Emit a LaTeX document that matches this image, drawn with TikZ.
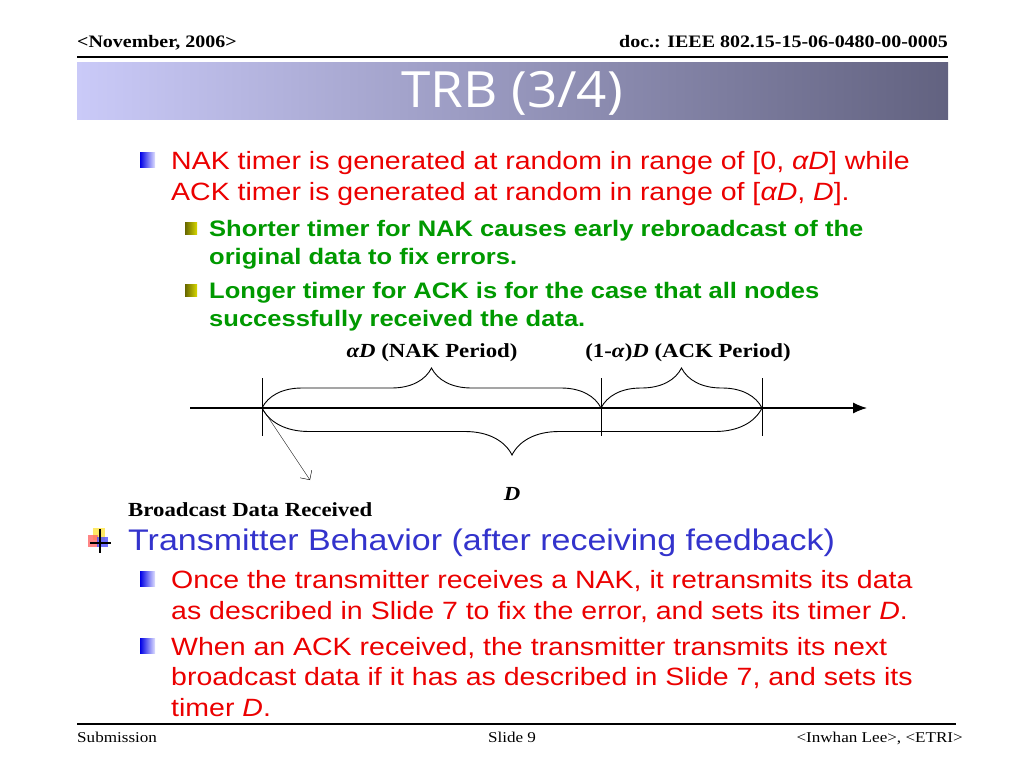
\documentclass[tikz,border=0pt]{standalone}
\usepackage{fontspec}
\setmainfont[FakeStretch=1.14]{Liberation Serif}
\newfontfamily\arialfont[FakeStretch=1.14]{Liberation Sans}
\newfontfamily\titlefont[FakeStretch=1.06]{Open Sans}
\usetikzlibrary{decorations.pathreplacing,arrows.meta}
\definecolor{slidered}{RGB}{235,0,0}
\definecolor{slidegreen}{RGB}{0,153,0}
\definecolor{slideblue}{RGB}{51,51,204}
\begin{document}
\begin{tikzpicture}[x=1pt,y=-1pt,
    bluebox/.style={left color=blue!90!black,right color=blue!12},
    greenbox/.style={left color=olive!80!black,right color=yellow!70!olive},
    redtxt/.style={anchor=base west,align=left,inner sep=0pt,text=slidered,font=\arialfont\fontsize{25}{30.5}\selectfont},
    greentxt/.style={anchor=base west,align=left,inner sep=0pt,text=slidegreen,font=\arialfont\bfseries\fontsize{22.4}{28}\selectfont},
    lbl/.style={inner sep=0pt,font=\bfseries\fontsize{20}{22}\selectfont},
    foot/.style={anchor=base,inner sep=0pt,font=\fontsize{15}{15}\selectfont}]
    \useasboundingbox (0,0) rectangle (1024,768);

    % header and title bar
    \node[anchor=base west,inner sep=0pt,font=\bfseries\fontsize{17.5}{18}\selectfont] (date) at (77,48) {<November, 2006>};
    \node[anchor=base east,inner sep=0pt,font=\bfseries\fontsize{17.5}{18}\selectfont] (doc) at (948,48) {doc.: IEEE 802.15-15-06-0480-00-0005};
    \draw[line width=1.5pt] (77,57) -- (948,57);
    \shade[left color={rgb,255:red,202;green,202;blue,248},right color={rgb,255:red,98;green,98;blue,128}] (77,62) rectangle (948,119);
    \node[text=white,font=\titlefont\fontsize{50}{50}\selectfont] (title) at (512,93) {TRB (3/4)};

    % bullets (base of each node is its last line)
    \shade[bluebox] (140,152) rectangle (155,167);
    \node[redtxt] (nak) at (171,200) {NAK timer is generated at random in range of [0, \textit{αD}] while\\ACK timer is generated at random in range of [\textit{αD}, \textit{D}].};
    \shade[greenbox] (185,222) rectangle (197,234);
    \node[greentxt] (short) at (209,264) {Shorter timer for NAK causes early rebroadcast of the\\original data to fix errors.};
    \shade[greenbox] (185,284) rectangle (197,296);
    \node[greentxt] (long) at (209,326) {Longer timer for ACK is for the case that all nodes\\successfully received the data.};

    % timeline
    \coordinate (start) at (262,408);
    \coordinate (mid) at (601,408);
    \coordinate (end) at (762,408);
    \coordinate (axisL) at (190,408);
    \coordinate (axisR) at (867,408);
    \coordinate (recv) at (310,480);
    \draw[line width=1.2pt,-{Latex[length=14pt,width=11pt]}] (axisL) -- (axisR);
    \foreach \t in {start,mid,end}
      \draw (\t) +(0,-30) -- +(0,28);
    \draw[line width=0.9pt,decorate,decoration={brace,amplitude=40pt}] (start) -- (mid);
    \draw[line width=0.9pt,decorate,decoration={brace,amplitude=40pt}] (mid) -- (end);
    \draw[line width=0.9pt,decorate,decoration={brace,mirror,amplitude=47pt}] (start) -- (end);
    \draw[-{Straight Barb[length=7pt]}] (start) -- (recv);

    \node[lbl,anchor=base] (nakp) at (432,357) {\textit{αD} (NAK Period)};
    \node[lbl,anchor=base] (ackp) at (688,357) {(1-\textit{α})\textit{D} (ACK Period)};
    \node[lbl,anchor=base] (dlen) at (512,500) {\textit{D}};
    \node[lbl,anchor=base west] (bcast) at (128,516) {Broadcast Data Received};

    % transmitter behaviour
    \fill[yellow!80!orange!60] (93,528) rectangle (105,540);
    \fill[red!60,opacity=0.8] (88,535) rectangle (98,547);
    \fill[blue!70,opacity=0.8] (97,537) rectangle (108,547);
    \draw[line width=1.4pt] (100,529) -- (100,553) (90,543) -- (111,543);
    \node[anchor=base west,inner sep=0pt,text=slideblue,font=\arialfont\fontsize{29.8}{30}\selectfont] (tx) at (128,550) {Transmitter Behavior (after receiving feedback)};
    \shade[bluebox] (140,571) rectangle (155,586);
    \node[redtxt] (once) at (171,619) {Once the transmitter receives a NAK, it retransmits its data\\as described in Slide 7 to fix the error, and sets its timer \textit{D}.};
    \shade[bluebox] (140,638) rectangle (155,653);
    \node[redtxt] (when) at (171,716) {When an ACK received, the transmitter transmits its next\\broadcast data if it has as described in Slide 7, and sets its\\timer \textit{D}.};

    % footer
    \draw[line width=1.5pt] (77,724) -- (956,724);
    \node[foot,anchor=base west] (sub) at (77,742) {Submission};
    \node[foot] (slide) at (512,742) {Slide 9};
    \node[foot,anchor=base east] (auth) at (963,742) {<Inwhan Lee>, <ETRI>};
\end{tikzpicture}
\end{document}
